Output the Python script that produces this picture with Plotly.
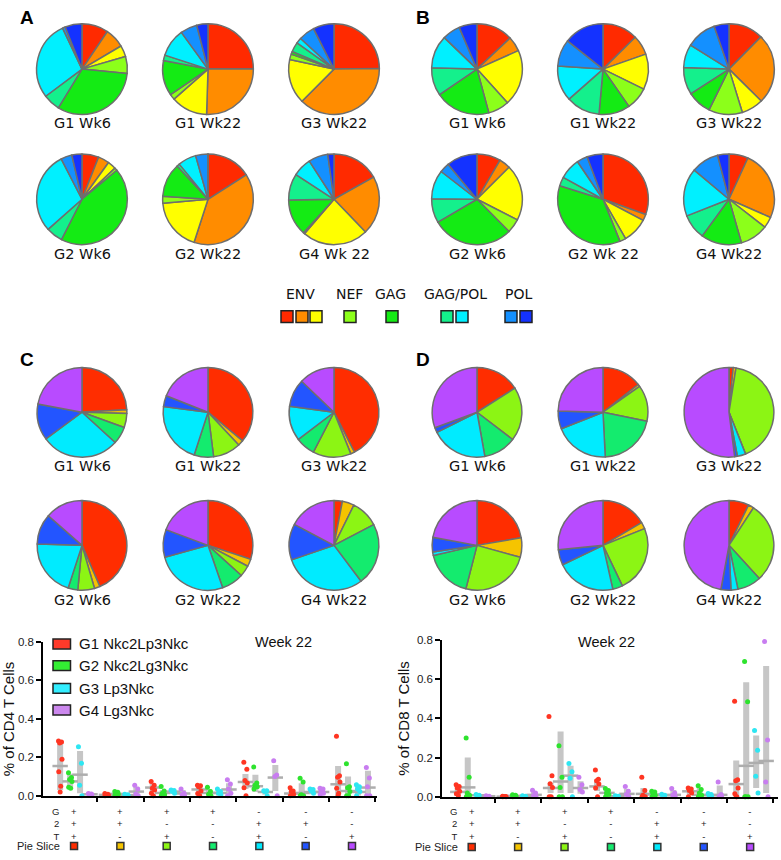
import plotly.graph_objects as go

W, H = 781, 860

# ---------------- Pie data: panels A / B ----------------
ab_categories = ["ENV (1)", "ENV (2)", "ENV (3)", "NEF", "GAG", "GAG/POL (1)", "GAG/POL (2)", "POL (1)", "POL (2)"]
ab_colors = ["#FF2A00", "#FF8C00", "#FFFF00", "#8CFF1A", "#14EB14", "#14F08C", "#00F0FF", "#1490FF", "#1432FF"]

a_titles = ["G1 Wk6", "G1 Wk22", "G3 Wk22", "G2 Wk6", "G2 Wk22", "G4 Wk 22"]
a_values = [
    [9.4, 7, 4, 6, 32, 6, 28, 1, 6],
    [25, 25.5, 13, 2, 12.5, 2, 10, 6, 4],
    [25, 38, 16, 2, 1, 3.5, 2, 5.8, 7.5],
    [6, 4, 3, 1, 43.6, 6, 29, 4, 3.6],
    [16, 39, 18.6, 2.5, 12, 1, 6.5, 4.4, 0],
    [17, 21, 23.6, 0.5, 13, 9.5, 6.7, 7, 2.2],
]
b_titles = ["G1 Wk6", "G1 Wk22", "G3 Wk22", "G2 Wk6", "G2 Wk 22", "G4 Wk22"]
b_values = [
    [13, 5.3, 20, 7.5, 19.7, 10, 11.7, 6.4, 6.4],
    [12.5, 7, 12.5, 8, 11, 12, 12.5, 9.5, 14.2],
    [12.4, 25, 7.8, 12, 8.6, 9.7, 8.3, 10.8, 5.3],
    [8.5, 4, 20, 5, 29, 8.6, 10.3, 3.5, 11],
    [30.5, 2.3, 9, 2.2, 36, 3.2, 7.5, 3.8, 5.7],
    [6.8, 24.6, 3.9, 10, 14.4, 8.9, 17, 9.8, 4],
]

# ---------------- Pie data: panels C / D ----------------
cd_categories = ["G+2+T+", "G+2+T-", "G+2-T+", "G+2-T-", "G-2+T+", "G-2+T-", "G-2-T+"]
cd_colors = ["#FF2D00", "#F5C400", "#8CF514", "#14EB6E", "#00EBFF", "#2355FF", "#B84BFF"]

c_titles = ["G1 Wk6", "G1 Wk22", "G3 Wk22", "G2 Wk6", "G2 Wk22", "G4 Wk22"]
c_values = [
    [24, 1.4, 5, 6.3, 28, 13, 22],
    [36, 2, 10, 7, 22, 4, 19],
    [42.4, 1.4, 13.7, 7, 12.5, 10, 12.8],
    [43.5, 2, 6, 3.5, 20.5, 11, 13.5],
    [30, 2.7, 4, 8, 26, 10, 19.3],
    [3, 4.3, 10, 22.4, 30, 13, 17.2],
]
d_titles = ["G1 Wk6", "G1 Wk22", "G3 Wk22", "G2 Wk6", "G2 Wk22", "G4 Wk22"]
d_values = [
    [16, 0, 19.4, 11.8, 20.4, 1.8, 30.6],
    [14.4, 0.8, 13, 21, 19.8, 6.4, 24.6],
    [1.5, 1, 41.5, 0, 3, 1, 52],
    [22.3, 7, 24.7, 17.4, 1.2, 5.3, 22.1],
    [16.5, 2.4, 24, 3.6, 21.4, 5.5, 26.6],
    [7.2, 2, 29, 8.6, 2.5, 3.6, 47.1],
]

# ---------------- Pie legend ----------------
legend_groups = ["ENV", "NEF", "GAG", "GAG/POL", "POL"]
legend_group_colors = [
    ["#FF2A00", "#FF8C00", "#FFFF00"],
    ["#8CFF1A"],
    ["#14EB14"],
    ["#14F08C", "#00F0FF"],
    ["#1490FF", "#1432FF"],
]

# ---------------- Bottom charts ----------------
row_g = ["+", "+", "+", "+", "-", "-", "-"]
row_2 = ["+", "+", "-", "-", "+", "+", "-"]
row_t = ["+", "-", "+", "-", "+", "-", "+"]
row_labels = ["G", "2", "T", "Pie Slice"]
series_names = ["G1 Nkc2Lp3Nkc", "G2 Nkc2Lg3Nkc", "G3 Lp3Nkc", "G4 Lg3Nkc"]
series_colors = ["#FF3522", "#2EE32E", "#2EE6F2", "#C87DF0"]
legend_fill = ["#FF3A2A", "#33EE33", "#33EEFF", "#CC88EE"]

# CD4 (% of CD4 T cells), per series, per group (7 groups)
cd4_g1_pts = [[0.285, 0.28, 0.275, 0.19, 0.125, 0.05, 0.02], [0.012, 0.008, 0.005, 0.003, 0.0],
              [0.075, 0.055, 0.04, 0.03, 0.013, 0.0], [0.055, 0.053, 0.047, 0.025, 0.012, 0.0],
              [0.175, 0.138, 0.08, 0.067, 0.042, 0.0], [0.042, 0.025, 0.022, 0.008, 0.0],
              [0.31, 0.105, 0.097, 0.072, 0.04, 0.013, 0.0]]
cd4_g2_pts = [[0.12, 0.095, 0.085, 0.075, 0.045, 0.04], [0.022, 0.018, 0.012, 0.008, 0.003, 0.0],
              [0.048, 0.025, 0.013, 0.005, 0.0], [0.045, 0.022, 0.008, 0.0],
              [0.15, 0.067, 0.055, 0.047, 0.035], [0.092, 0.072, 0.005, 0.0, 0.0],
              [0.167, 0.047, 0.042, 0.022, 0.0, 0.0]]
cd4_g3_pts = [[0.255, 0.17, 0.055, 0.0], [0.008, 0.005, 0.003, 0.0], [0.03, 0.028, 0.022, 0.013],
              [0.035, 0.022, 0.013, 0.005], [0.027, 0.026, 0.022, 0.0], [0.035, 0.033, 0.025, 0.013],
              [0.058, 0.047, 0.035, 0.022, 0.0]]
cd4_g4_pts = [[0.012, 0.01, 0.008, 0.005], [0.055, 0.035, 0.01, 0.0], [0.035, 0.013, 0.005, 0.0],
              [0.083, 0.062, 0.035, 0.013, 0.0], [0.183, 0.108, 0.1, 0.0], [0.04, 0.035, 0.022, 0.013, 0.005],
              [0.147, 0.093, 0.047, 0.0, 0.0]]
cd4_mean = [[0.155, 0.005, 0.043, 0.033, 0.072, 0.012, 0.06],
            [0.075, 0.01, 0.015, 0.015, 0.05, 0.015, 0.025],
            [0.11, 0.004, 0.022, 0.015, 0.02, 0.02, 0.02],
            [0.008, 0.022, 0.012, 0.033, 0.095, 0.02, 0.043]]
cd4_low = [[0.03, 0.0, 0.02, 0.005, 0.035, 0.0, 0.0],
           [0.035, 0.0, 0.0, 0.0, 0.02, 0.0, 0.0],
           [0.013, 0.0, 0.012, 0.0, 0.005, 0.008, 0.0],
           [0.003, 0.0, 0.0, 0.0, 0.025, 0.005, 0.0]]
cd4_high = [[0.28, 0.012, 0.065, 0.055, 0.113, 0.025, 0.155],
            [0.115, 0.02, 0.03, 0.035, 0.11, 0.065, 0.1],
            [0.233, 0.008, 0.03, 0.03, 0.027, 0.032, 0.048],
            [0.013, 0.047, 0.03, 0.065, 0.16, 0.035, 0.13]]

# CD8 (% of CD8 T cells)
cd8_g1_pts = [[0.062, 0.053, 0.045, 0.028, 0.015, 0.007], [0.003, 0.002, 0.001, 0.0, 0.0],
              [0.41, 0.107, 0.067, 0.048, 0.0, 0.0], [0.137, 0.09, 0.082, 0.065, 0.045, 0.0],
              [0.1, 0.032, 0.008, 0.0, 0.0], [0.045, 0.04, 0.032, 0.02, 0.0],
              [0.488, 0.087, 0.082, 0.045, 0.015, 0.0, 0.0]]
cd8_g2_pts = [[0.3, 0.1, 0.02, 0.008, 0.0], [0.01, 0.008, 0.005, 0.003, 0.0], [0.26, 0.1, 0.048, 0.0, 0.0],
              [0.042, 0.032, 0.02, 0.012, 0.0], [0.028, 0.025, 0.018, 0.008, 0.0],
              [0.057, 0.037, 0.02, 0.008, 0.0], [0.69, 0.485, 0.0, 0.0, 0.0]]
cd8_g3_pts = [[0.012, 0.008, 0.0], [0.005, 0.003, 0.0], [0.17, 0.128, 0.095, 0.0], [0.006, 0.003, 0.0],
              [0.013, 0.008, 0.0], [0.017, 0.012, 0.003, 0.0], [0.338, 0.238, 0.105, 0.02]]
cd8_g4_pts = [[0.005, 0.003, 0.0], [0.033, 0.02, 0.007, 0.0], [0.1, 0.062, 0.037, 0.025],
              [0.053, 0.028, 0.012, 0.0], [0.042, 0.02, 0.008, 0.0], [0.075, 0.012, 0.003, 0.0],
              [0.792, 0.29, 0.075, 0.0]]
cd8_mean = [[0.025, 0.001, 0.045, 0.053, 0.015, 0.028, 0.065],
            [0.048, 0.005, 0.078, 0.02, 0.012, 0.01, 0.158],
            [0.008, 0.003, 0.108, 0.003, 0.008, 0.008, 0.173],
            [0.003, 0.01, 0.045, 0.015, 0.01, 0.01, 0.183]]
cd8_low = [[0.005, 0.0, 0.02, 0.03, 0.0, 0.01, 0.0],
           [0.0, 0.0, 0.02, 0.005, 0.0, 0.0, 0.0],
           [0.0, 0.0, 0.02, 0.0, 0.0, 0.0, 0.045],
           [0.0, 0.0, 0.015, 0.0, 0.0, 0.0, 0.02]]
cd8_high = [[0.055, 0.003, 0.07, 0.075, 0.045, 0.04, 0.185],
            [0.2, 0.01, 0.333, 0.035, 0.025, 0.045, 0.585],
            [0.012, 0.005, 0.158, 0.005, 0.012, 0.015, 0.313],
            [0.005, 0.028, 0.08, 0.04, 0.035, 0.058, 0.668]]

y_ticks = [0.0, 0.2, 0.4, 0.6, 0.8]

# =========================================================
fig = go.Figure()
PIE_FONT = "DejaVu Sans"
SANS = "Liberation Sans, Arial"


def px_x(x):
    return x / W


def px_y(y):
    return 1 - y / H


annotations = []
shapes = []


def add_pie(values, cats, cols, cx, cy, r, title, ty):
    fig.add_trace(go.Pie(
        values=values, labels=cats, sort=False, direction="clockwise", rotation=0,
        marker=dict(colors=cols, line=dict(color="#6E6E6E", width=1.5)),
        textinfo="none", textposition="none", showlegend=False,
        hoverinfo="label+percent",
        domain=dict(x=[px_x(cx - r), px_x(cx + r)], y=[px_y(cy + r), px_y(cy - r)]),
    ))
    annotations.append(dict(x=px_x(cx), y=px_y(ty), xref="paper", yref="paper", text=title,
                            showarrow=False, xanchor="center", yanchor="middle",
                            font=dict(family=PIE_FONT, size=14.5, color="#111")))


col_left = [82, 208, 334]
col_right = [477, 603, 729]
rows_top = [64, 196]
labels_top = [119, 252]
rows_bot = [412, 547]
labels_bot = [467, 602]

for i in range(6):
    r_, c_ = divmod(i, 3)
    add_pie(a_values[i], ab_categories, ab_colors, col_left[c_], rows_top[r_], 46, a_titles[i], labels_top[r_])
    add_pie(b_values[i], ab_categories, ab_colors, col_right[c_], rows_top[r_], 46, b_titles[i], labels_top[r_])
    add_pie(c_values[i], cd_categories, cd_colors, col_left[c_], rows_bot[r_], 45.5, c_titles[i], labels_bot[r_])
    add_pie(d_values[i], cd_categories, cd_colors, col_right[c_], rows_bot[r_], 45.5, d_titles[i], labels_bot[r_])

# panel letters
for letter, (lx, ly) in zip(["A", "B", "C", "D"], [(27, 12), (423, 12), (27, 358), (423, 358)]):
    annotations.append(dict(x=px_x(lx), y=px_y(ly), xref="paper", yref="paper", text="<b>%s</b>" % letter,
                            showarrow=False, xanchor="center", yanchor="middle",
                            font=dict(family=SANS, size=19, color="#000")))

# pie legend
leg_text_x = [300, 349, 391, 455, 518]
leg_sq_x = [[287, 302, 316], [350], [392], [447, 462], [511, 526]]
for name, cols, tx, sxs in zip(legend_groups, legend_group_colors, leg_text_x, leg_sq_x):
    annotations.append(dict(x=px_x(tx), y=px_y(292), xref="paper", yref="paper", text=name,
                            showarrow=False, xanchor="center", yanchor="middle",
                            font=dict(family=PIE_FONT, size=14, color="#111")))
    for col, sx in zip(cols, sxs):
        shapes.append(dict(type="rect", xref="paper", yref="paper",
                           x0=px_x(sx - 6), x1=px_x(sx + 6), y0=px_y(321), y1=px_y(309),
                           fillcolor=col, line=dict(color="#222", width=1.5)))

# ---------------- bottom charts ----------------
offsets = [-0.3, -0.085, 0.13, 0.345]
jit = [-0.035, 0.03, -0.01, 0.04, -0.03, 0.012, 0.0]


def draw_chart(pts_all, means, lows, highs, xa, ya, xa_in, xrange, dom_x, dom_y, ytitle,
               week_x, row_px, label_right_px):
    # grey range bars
    for s in range(4):
        xs, bases, hts = [], [], []
        for g in range(7):
            xs.append(g + offsets[s])
            bases.append(lows[s][g])
            hts.append(highs[s][g] - lows[s][g])
        fig.add_trace(go.Bar(x=xs, y=hts, base=bases, width=0.13, marker=dict(color="#C6C6C6", line=dict(width=0)),
                             xaxis=xa, yaxis=ya, showlegend=False, hoverinfo="skip"))
    # means
    for s in range(4):
        fig.add_trace(go.Scatter(x=[g + offsets[s] for g in range(7)], y=means[s], mode="markers",
                                 marker=dict(symbol="line-ew", size=11, line=dict(color="#ADADAD", width=2.5)),
                                 xaxis=xa, yaxis=ya, showlegend=False, cliponaxis=False, hoverinfo="skip"))
    # points
    for s in range(4):
        xs, ys = [], []
        for g in range(7):
            for i, v in enumerate(pts_all[s][g]):
                xs.append(g + offsets[s] + jit[i % len(jit)])
                ys.append(v)
        fig.add_trace(go.Scatter(x=xs, y=ys, mode="markers", name=series_names[s],
                                 marker=dict(color=series_colors[s], size=5),
                                 xaxis=xa, yaxis=ya, showlegend=False, cliponaxis=False))
    # pie slice squares below axis (pixel-sized shapes anchored at group centres)
    for g in range(7):
        shapes.append(dict(type="rect", xref=xa, yref="paper", xsizemode="pixel", ysizemode="pixel",
                           xanchor=g, yanchor=px_y(row_px[3]), x0=-3.5, x1=3.5, y0=-3.5, y1=3.5,
                           fillcolor=cd_colors[g], line=dict(color="#333", width=1.5)))
    # sign rows: one stacked text per group
    mid_px = (row_px[0] + row_px[2]) / 2
    for g in range(7):
        annotations.append(dict(x=g, y=px_y(mid_px), xref=xa, yref="paper",
                                text="<br>".join([row_g[g], row_2[g], row_t[g]]), showarrow=False,
                                xanchor="center", yanchor="middle", align="center",
                                font=dict(family=SANS, size=9.5, color="#222")))
    annotations.append(dict(x=px_x(label_right_px), y=px_y(mid_px), xref="paper", yref="paper",
                            text="<br>".join(row_labels[:3]), showarrow=False, xanchor="right",
                            yanchor="middle", align="right", font=dict(family=SANS, size=9.5, color="#222")))
    annotations.append(dict(x=px_x(label_right_px), y=px_y(row_px[3]), xref="paper", yref="paper",
                            text=row_labels[3], showarrow=False, xanchor="right", yanchor="middle",
                            font=dict(family=SANS, size=11, color="#222")))
    annotations.append(dict(x=px_x(week_x), y=px_y(645), xref="paper", yref="paper", text="Week 22",
                            showarrow=False, xanchor="center", yanchor="middle",
                            font=dict(family=SANS, size=14.5, color="#111")))
    ax_name = "xaxis" if xa == "x" else "xaxis" + xa[1:]
    ay_name = "yaxis" if ya == "y" else "yaxis" + ya[1:]
    axin_name = "xaxis" + xa_in[1:]
    tickv = [g + 0.5 for g in range(7)]
    fig.layout[ax_name] = dict(domain=dom_x, range=xrange, anchor=ya, showline=True, linecolor="#000",
                               linewidth=1.5, tickvals=tickv, ticks="outside", ticklen=4, tickwidth=1.5,
                               tickcolor="#000", showticklabels=False, showgrid=False, zeroline=False)
    fig.layout[axin_name] = dict(overlaying=xa, range=xrange, anchor=ya, showline=False, tickvals=tickv,
                                 ticks="inside", ticklen=4, tickwidth=1.5, tickcolor="#000",
                                 showticklabels=False, showgrid=False, zeroline=False)
    fig.layout[ay_name] = dict(domain=dom_y, range=[0, 0.8], anchor=xa, showline=True, linecolor="#000",
                               linewidth=1.5, tickvals=y_ticks, ticktext=["%.1f" % t for t in y_ticks],
                               ticks="outside", ticklen=5, tickwidth=1.5, tickcolor="#000",
                               tickfont=dict(family=SANS, size=11.5, color="#222"),
                               showgrid=False, zeroline=False,
                               title=dict(text=ytitle, font=dict(family=SANS, size=15, color="#111"), standoff=4))


draw_chart([cd4_g1_pts, cd4_g2_pts, cd4_g3_pts, cd4_g4_pts], cd4_mean, cd4_low, cd4_high,
           "x", "y", "x3", [-0.67, 6.54], [px_x(43), px_x(377)], [px_y(801), px_y(645)],
           "% of CD4 T Cells", 283, [818, 829, 841, 852], 62)
draw_chart([cd8_g1_pts, cd8_g2_pts, cd8_g3_pts, cd8_g4_pts], cd8_mean, cd8_low, cd8_high,
           "x2", "y2", "x4", [-0.64, 6.6], [px_x(442), px_x(778)], [px_y(802), px_y(643)],
           "% of CD8 T Cells", 606, [818, 829, 841, 853], 460)

# bottom-left legend (drawn manually)
leg_y = [647, 669, 692, 714]
for name, col, ly in zip(series_names, legend_fill, leg_y):
    shapes.append(dict(type="rect", xref="paper", yref="paper", x0=px_x(53), x1=px_x(70.5),
                       y0=px_y(ly + 5), y1=px_y(ly - 5), fillcolor=col, line=dict(color="#222", width=1.5)))
    annotations.append(dict(x=px_x(77), y=px_y(ly), xref="paper", yref="paper", text=name, showarrow=False,
                            xanchor="left", yanchor="middle", font=dict(family=SANS, size=15, color="#111")))

fig.update_layout(width=W, height=H, autosize=False, margin=dict(l=0, r=0, t=0, b=0),
                  paper_bgcolor="white", plot_bgcolor="white", barmode="overlay",
                  annotations=annotations, shapes=shapes, showlegend=False)

fig.write_html("out.html", config={"displayModeBar": False},
               post_script="document.body.style.margin='0';document.body.style.overflow='hidden';")
